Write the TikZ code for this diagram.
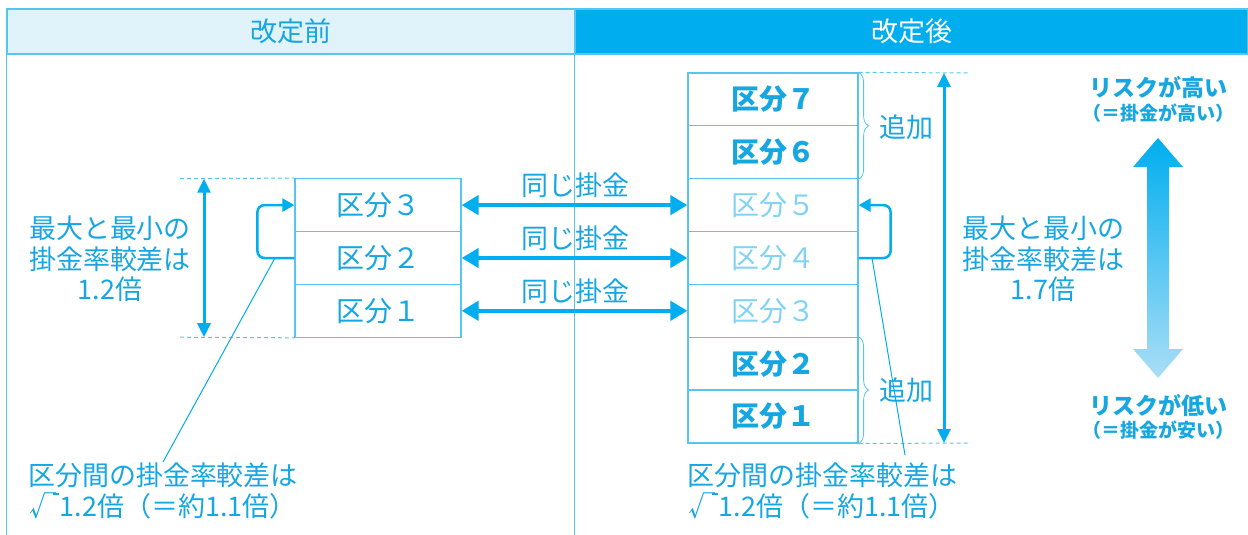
\documentclass[tikz,border=0pt]{standalone}
\usepackage{fontspec}
\setmainfont{Noto Sans CJK JP}
\usetikzlibrary{arrows.meta,decorations.pathreplacing}
\definecolor{kblue}{RGB}{0,174,239}
\definecolor{ktext}{RGB}{22,166,226}
\definecolor{kline}{RGB}{86,198,240}
\definecolor{kpale}{RGB}{128,211,244}
\definecolor{khead}{RGB}{224,243,251}
\definecolor{kfade}{RGB}{170,222,246}
\newcommand{\fs}[1]{\fontsize{#1}{1.12\dimexpr#1pt\relax}\selectfont}
\newcommand{\rt}{√\kern-0.12em\raisebox{0.8em}{\rule{0.22em}{0.05em}}\kern0.02em}
\tikzset{
  hdr/.style={draw=kline,line width=1.2pt,minimum height=45pt,inner sep=0pt,font=\fs{27}},
  frame/.style={kline,line width=1.2pt},
  box/.style={draw=kline,line width=1.2pt,minimum height=52.85pt,inner sep=0pt,font=\fs{28}},
  newbox/.style={box,minimum width=170pt,text=ktext,font=\fs{28}\bfseries},
  oldbox/.style={box,minimum width=170pt,text=kpale},
  lbl/.style={text=ktext,font=\fs{27},align=center,inner sep=1pt},
  risk/.style={text=ktext,align=center,inner sep=1pt},
  guide/.style={kline,line width=1pt,dash pattern=on 4pt off 3pt},
  dim/.style={kblue,line width=3pt,{Triangle[length=14pt,width=13pt]}-{Triangle[length=14pt,width=13pt]}},
  same/.style={kblue,line width=4.5pt,{Triangle[length=17pt,width=19pt]}-{Triangle[length=17pt,width=19pt]}},
  back/.style={kblue,line width=2.5pt,rounded corners=7pt,-{Triangle[length=12pt,width=13pt]}},
  lead/.style={kblue,line width=1pt},
  brace/.style={kline,line width=0.8pt,decorate,decoration={brace,amplitude=10pt}}
}
\begin{document}
\begin{tikzpicture}[x=1pt,y=-1pt]
\useasboundingbox (0,0) rectangle (1248,535);
\node[hdr,fill=khead,text=ktext,minimum width=568pt] (hl) at (291,31.5) {改定前};
\node[hdr,fill=kblue,text=white,minimum width=673pt] (hr) at (911.5,31.5) {改定後};
\draw[frame] (hl.south west) -- ++(0,481);
\draw[frame] (hr.south west) -- ++(0,481);

\node[box,minimum width=166pt,text=ktext] (l3) at (378,205.1) {区分３};
\node[box,minimum width=166pt,text=ktext] (l2) at (378,258.0) {区分２};
\node[box,minimum width=166pt,text=ktext] (l1) at (378,310.8) {区分１};

\node[newbox] (r7) at (773,99.4) {区分７};
\node[newbox] (r6) at (773,152.3) {区分６};
\node[oldbox] (r5) at (773,205.1) {区分５};
\node[oldbox] (r4) at (773,258.0) {区分４};
\node[oldbox] (r3) at (773,310.8) {区分３};
\node[newbox] (r2) at (773,363.7) {区分２};
\node[newbox] (r1) at (773,416.5) {区分１};

\coordinate (lgt) at (180,178.7);
\coordinate (lgb) at (180,337.2);
\draw[guide] (lgt) -- (l3.north west);
\draw[guide] (lgb) -- (l1.south west);
\coordinate (ldt) at (204,178.7);
\coordinate (ldb) at (204,337.2);
\draw[dim] (ldt) -- (ldb);
\node[lbl] (lmax) at (110,259) {最大と最小の\\掛金率較差は\\1.2倍};

\draw[back] (l2.west) -- ++(-37,0) |- (l3.west);
\coordinate (llp) at (275,258);
\node[lbl] (lnote) at (163,491) {区分間の掛金率較差は\\\rt 1.2倍（＝約1.1倍）};
\draw[lead] (llp) -- (lnote.north);

\draw[same] (l3.east) -- (r5.west);
\draw[same] (l2.east) -- (r4.west);
\draw[same] (l1.east) -- (r3.west);
\node[lbl] (s3) at (575,185) {同じ掛金};
\node[lbl] (s2) at (575,238) {同じ掛金};
\node[lbl] (s1) at (575,291) {同じ掛金};

\draw[brace] (r7.north east) -- (r6.south east);
\draw[brace] (r2.north east) -- (r1.south east);
\node[lbl] (add1) at (906,127) {追加};
\node[lbl] (add2) at (906,390) {追加};

\coordinate (rgt) at (970,73);
\coordinate (rgb) at (970,443);
\draw[guide] (r7.north east) -- (rgt);
\draw[guide] (r1.south east) -- (rgb);
\coordinate (rdt) at (944,73);
\coordinate (rdb) at (944,443);
\draw[dim] (rdt) -- (rdb);
\node[lbl] (rmax) at (1043,259) {最大と最小の\\掛金率較差は\\1.7倍};

\draw[back] (r4.east) -- ++(32,0) |- (r5.east);
\coordinate (rlp) at (872,258);
\coordinate (rle) at (905,455);
\node[lbl] (rnote) at (822,491) {区分間の掛金率較差は\\\rt 1.2倍（＝約1.1倍）};
\draw[lead] (rlp) -- (rle);

\node[risk,font=\fs{23}\bfseries] (hi1) at (1158,88) {リスクが高い};
\node[risk,font=\fs{19}\bfseries] (hi2) at (1158,113) {（＝掛金が高い）};
\node[risk,font=\fs{23}\bfseries] (lo1) at (1158,405) {リスクが低い};
\node[risk,font=\fs{19}\bfseries] (lo2) at (1158,430) {（＝掛金が安い）};
\shade[top color=kblue,bottom color=kfade] (1158,138) -- (1183,167) -- (1169,167) -- (1169,349) -- (1183,349) -- (1158,378) -- (1133,349) -- (1147,349) -- (1147,167) -- (1133,167) -- cycle;
\end{tikzpicture}
\end{document}
